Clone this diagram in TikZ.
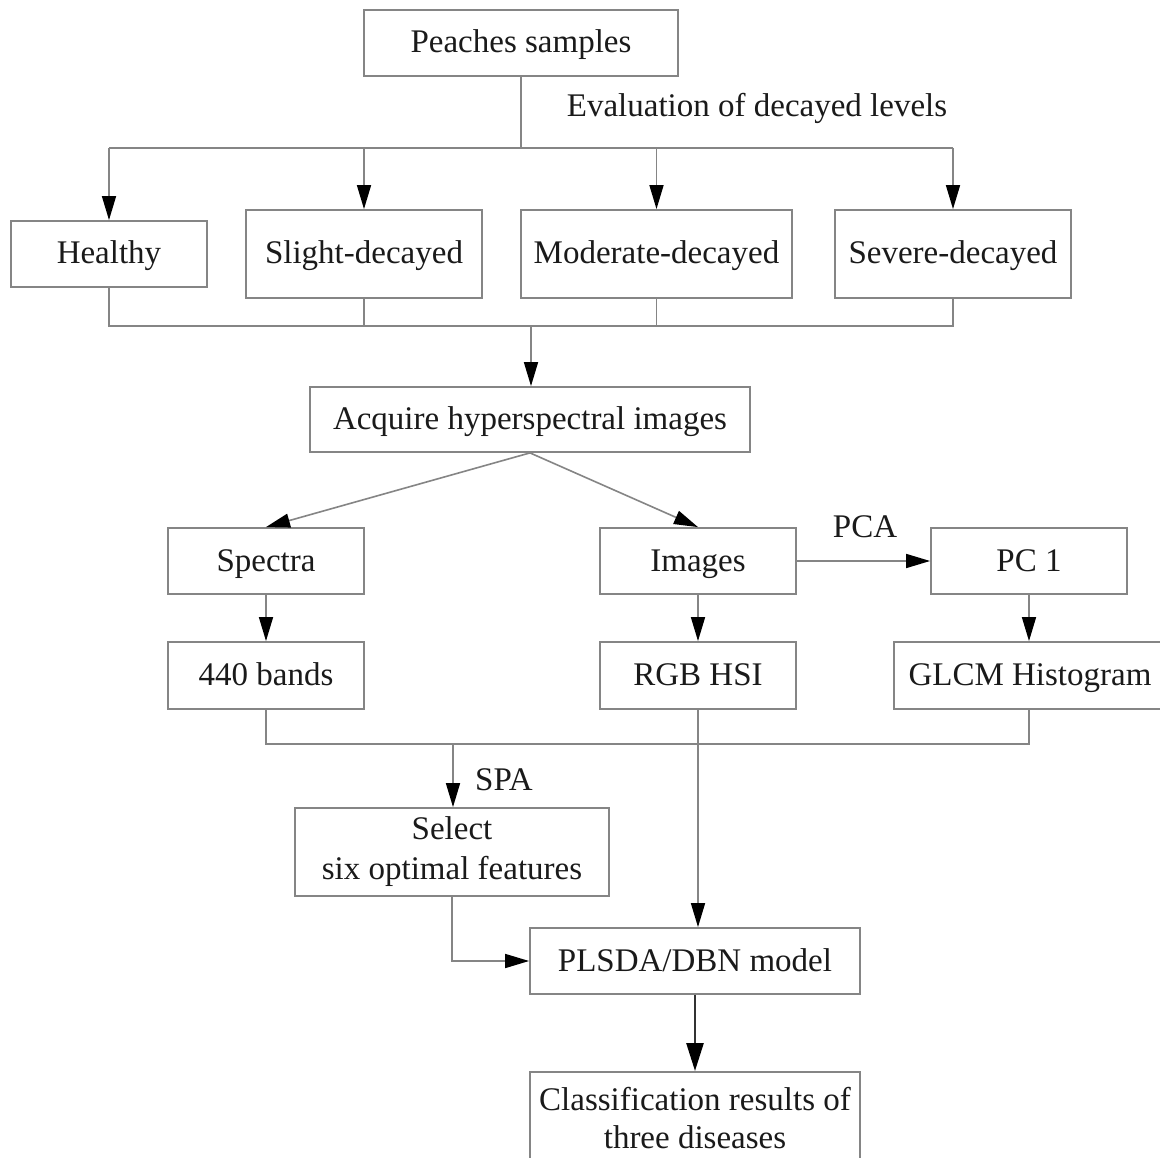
\documentclass[tikz,border=0pt]{standalone}
\usepackage{fontspec}
\setmainfont{Liberation Serif}
\usetikzlibrary{arrows.meta}
\definecolor{linegray}{HTML}{858585}
\definecolor{txt}{HTML}{1A1A1A}
\begin{document}
\begin{tikzpicture}[x=1pt,y=-1pt,
  box/.style={draw=linegray,line width=1.8pt,inner sep=0pt,text=txt,
    font=\fontsize{33}{40}\selectfont,align=center},
  one/.style={text height=20.5pt,text depth=0.5pt},
  conn/.style={draw=linegray,line width=1.6pt},
  arr/.style={conn,-{Triangle[length=24pt,width=14pt,color=black]}},
  thick arr/.style={draw=black!80,line width=2.6pt,-{Triangle[length=28pt,width=17pt,color=black]}},
  lbl/.style={text=txt,font=\fontsize{33}{40}\selectfont,inner sep=0pt,text height=20.5pt,text depth=0.5pt}]
\useasboundingbox (0,0) rectangle (1160,1158);
\clip (0,0) rectangle (1160,1158);
\fill[white] (0,0) rectangle (1160,1158);

% nodes
\node[box,one,minimum width=314pt,minimum height=66pt] (ps) at (521,43) {Peaches samples};
\node[box,one,minimum width=196pt,minimum height=66pt] (heal) at (109,254) {Healthy};
\node[box,one,minimum width=236pt,minimum height=88pt] (slight) at (364,254) {Slight-decayed};
\node[box,one,minimum width=271pt,minimum height=88pt] (mod) at (656.5,254) {Moderate-decayed};
\node[box,one,minimum width=236pt,minimum height=88pt] (sev) at (953,254) {Severe-decayed};
\node[box,one,minimum width=440pt,minimum height=65pt] (acq) at (530,419.5) {Acquire hyperspectral images};
\node[box,one,minimum width=196pt,minimum height=66pt] (spec) at (266,561) {Spectra};
\node[box,one,minimum width=196pt,minimum height=66pt] (img) at (698,561) {Images};
\node[box,one,minimum width=196pt,minimum height=66pt] (pc) at (1029,561) {PC 1};
\node[box,one,minimum width=196pt,minimum height=67pt] (bands) at (266,675.5) {440 bands};
\node[box,one,minimum width=196pt,minimum height=67pt] (rgb) at (698,675.5) {RGB HSI};
\node[box,one,minimum width=272pt,minimum height=67pt] (glcm) at (1030,675.5) {GLCM Histogram};
\node[box,minimum width=314pt,minimum height=88pt] (sel) at (452,852) {Select\\six optimal features};
\node[box,one,minimum width=330pt,minimum height=66pt] (pls) at (695,961) {PLSDA/DBN model};
\node[box,minimum width=330pt,minimum height=92pt,anchor=north,
  font=\fontsize{33}{38}\selectfont] (cls) at (695,1071) {Classification results of\\three diseases};

% labels
\node[lbl] (eval) at (757,107) {Evaluation of decayed levels};
\node[lbl] (pca) at (865,527) {PCA};
\node[lbl] (spa) at (504,780) {SPA};

% top distribution
\coordinate (tb) at (521,148);
\draw[conn] (ps.south) -- (tb);
\draw[conn] (heal.north |- tb) -- (sev.north |- tb);
\draw[arr] (heal.north |- tb) -- (heal.north);
\draw[arr] (slight.north |- tb) -- (slight.north);
\draw[arr] (mod.north |- tb) -- (mod.north);
\draw[arr] (sev.north |- tb) -- (sev.north);

% collect
\coordinate (bb) at (531,326);
\draw[conn] (heal.south) -- (heal.south |- bb) -- (sev.south |- bb) -- (sev.south);
\draw[conn] (slight.south) -- (slight.south |- bb);
\draw[conn] (mod.south) -- (mod.south |- bb);
\draw[arr] (bb) -- (bb |- acq.north);

% split
\draw[arr] (acq.south) -- (spec.north);
\draw[arr] (acq.south) -- (img.north);
\draw[arr] (img.east) -- (pc.west);
\draw[arr] (spec.south) -- (bands.north);
\draw[arr] (img.south) -- (rgb.north);
\draw[arr] (pc.south) -- (pc.south |- glcm.north);

% join to SPA
\coordinate (jb) at (453,744);
\draw[conn] (bands.south) -- (bands.south |- jb) -- (pc.south |- jb) -- (pc.south |- glcm.south);
\draw[arr] (jb) -- (jb |- sel.north);
\draw[arr] (rgb.south) -- (rgb.south |- pls.north);
\draw[arr] (sel.south) |- (pls.west);
\draw[thick arr] (pls.south) -- (cls.north);
\end{tikzpicture}
\end{document}
